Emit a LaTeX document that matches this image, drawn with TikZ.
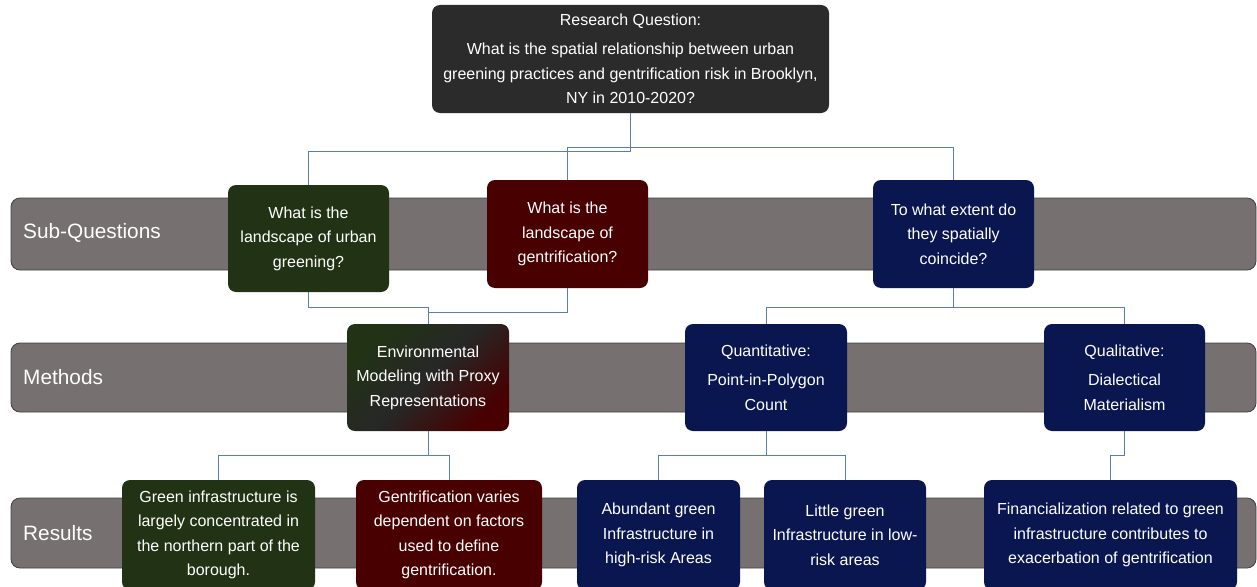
\documentclass[tikz,border=0pt]{standalone}
\usepackage{fontspec}
\setmainfont{Liberation Sans}
\usetikzlibrary{calc}

\definecolor{boxgray}{HTML}{2B2B2B}
\definecolor{boxgreen}{HTML}{223315}
\definecolor{boxred}{HTML}{480000}
\definecolor{boxblue}{HTML}{0A1650}
\definecolor{bandgray}{HTML}{767070}
\definecolor{linkblue}{HTML}{5A7DB4}

\tikzset{
    box/.style={rectangle, rounded corners=8pt, text=white, align=center,
        font=\fontsize{16}{24.5}\selectfont, inner sep=0pt},
    band/.style={rectangle, rounded corners=9pt, draw=black!75, line width=0.8pt,
        fill=bandgray, minimum width=1245pt},
    bandlabel/.style={text=white, font=\fontsize{20.8}{24}\selectfont, anchor=west, inner sep=0pt},
    link/.style={draw=linkblue, line width=0.9pt},
}

\begin{document}
\begin{tikzpicture}[x=1pt, y=-1pt]

    \useasboundingbox (0, 0) rectangle (1257, 586);

    % bands
    \node[band, minimum height=72pt] (sqband) at (633.5, 234) {};
    \node[band, minimum height=69pt] (mband) at (633.5, 377.5) {};
    \node[band, minimum height=70pt] (rband) at (633.5, 533) {};

    \node[bandlabel] (sqlabel) at (23, 233) {Sub-Questions};
    \node[bandlabel] (mlabel) at (23, 377) {Methods};
    \node[bandlabel] (rlabel) at (23, 533) {Results};

    % research question
    \node[box, fill=boxgray, minimum width=397pt, minimum height=108pt] (rq) at (630.5, 59)
        {Research Question:\\[5pt] What is the spatial relationship between urban\\
         greening practices and gentrification risk in Brooklyn,\\ NY in 2010-2020?};

    % sub-questions
    \node[box, fill=boxgreen, minimum width=161pt, minimum height=107pt] (sq1) at (308.5, 238.5)
        {What is the\\ landscape of urban\\ greening?};
    \node[box, fill=boxred, minimum width=161pt, minimum height=108pt] (sq2) at (567.5, 234)
        {What is the\\ landscape of\\ gentrification?};
    \node[box, fill=boxblue, minimum width=161pt, minimum height=108pt] (sq3) at (953.5, 234)
        {To what extent do\\ they spatially\\ coincide?};

    % methods
    \node[box, top color=boxgreen, bottom color=boxred, middle color=boxgray!90!black,
        shading angle=45, minimum width=162pt, minimum height=107pt] (env) at (428, 377.5)
        {Environmental\\ Modeling with Proxy\\ Representations};
    \node[box, fill=boxblue, minimum width=162pt, minimum height=107pt] (quant) at (766, 377.5)
        {Quantitative:\\[5pt] Point-in-Polygon\\ Count};
    \node[box, fill=boxblue, minimum width=161pt, minimum height=107pt] (qual) at (1124.5, 377.5)
        {Qualitative:\\[5pt] Dialectical\\ Materialism};

    % results
    \node[box, fill=boxgreen, minimum width=193pt, minimum height=110pt] (res1) at (218.5, 535)
        {Green infrastructure is\\ largely concentrated in\\ the northern part of the\\ borough.};
    \node[box, fill=boxred, minimum width=186pt, minimum height=110pt] (res2) at (449, 535)
        {Gentrification varies\\ dependent on factors\\ used to define\\ gentrification.};
    \node[box, fill=boxblue, minimum width=163pt, minimum height=110pt] (res3) at (658.5, 535)
        {Abundant green\\ Infrastructure in\\ high-risk Areas};
    \node[box, fill=boxblue, minimum width=162pt, minimum height=110pt] (res4) at (845, 535)
        {Little green\\ Infrastructure in low-\\ risk areas};
    \node[box, fill=boxblue, minimum width=253pt, minimum height=110pt] (res5) at (1110.5, 535)
        {Financialization related to green\\ infrastructure contributes to\\ exacerbation of gentrification};

    % connectors
    \draw[link] (rq.south) -- ++(0, 38) -| (sq1.north);
    \draw[link] (rq.south) -- ++(0, 34) -| (sq2.north);
    \draw[link] (rq.south) -- ++(0, 34) -| (sq3.north);

    \draw[link] (sq1.south) -- ++(0, 15) -| (env.north);
    \draw[link] (sq2.south) -- ++(0, 24) -| (env.north);
    \draw[link] (sq3.south) -- ++(0, 19) -| (quant.north);
    \draw[link] (sq3.south) -- ++(0, 19) -| (qual.north);

    \draw[link] (env.south) -- ++(0, 24) -| (res1.north);
    \draw[link] (env.south) -- ++(0, 24) -| (res2.north);
    \draw[link] (quant.south) -- ++(0, 24) -| (res3.north);
    \draw[link] (quant.south) -- ++(0, 24) -| (res4.north);
    \draw[link] (qual.south) -- ++(0, 24) -| (res5.north);

\end{tikzpicture}
\end{document}
